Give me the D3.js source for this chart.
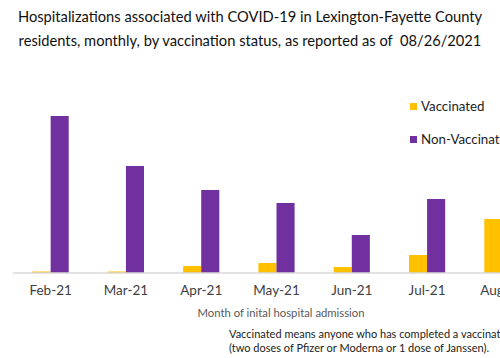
<!DOCTYPE html>
<html>
<head>
<meta charset="utf-8">
<script src="https://cdn.jsdelivr.net/npm/d3@7"></script>
<style>
  body { margin: 0; background: #fff; }
  svg { display: block; font-family: Lato, sans-serif; }
</style>
</head>
<body>
<div id="chart"></div>
<script>
// data (the right side is cut off in the original)
const months = ['Feb-21', 'Mar-21', 'Apr-21', 'May-21', 'Jun-21', 'Jul-21', 'Aug-21'];
const vaccinated = [1.5, 1.5, 7, 10, 6, 18, 54];
const nonVaccinated = [157, 107, 83, 70, 38, 74, 120];
const seriesNames = ['Vaccinated', 'Non-Vaccinated'];
const colors = ['#FFC000', '#7030A0'];

const width = 500;
const height = 358;
const margin = { top: 115, right: -40, bottom: 85, left: 13 };

const svg = d3.select('#chart')
  .append('svg')
  .attr('width', width)
  .attr('height', height);

const x = d3.scaleBand()
  .domain(months)
  .range([margin.left, width - margin.right])
  .paddingInner(0.52)
  .paddingOuter(0.26);

const x1 = d3.scaleBand()
  .domain(seriesNames)
  .range([0, x.bandwidth()]);

const y = d3.scaleLinear()
  .domain([0, 157])
  .range([height - margin.bottom, height - margin.bottom - 157]);

const rows = months.map((m, i) => ({ month: m, values: [vaccinated[i], nonVaccinated[i]] }));

// title
svg.append('text')
  .attr('x', 250).attr('y', 22)
  .attr('text-anchor', 'middle')
  .style('font-size', '14.7px')
  .attr('fill', '#111')
  .selectAll('tspan')
  .data(['Hospitalizations associated with COVID-19 in Lexington-Fayette County',
         'residents, monthly, by vaccination status, as reported as of  08/26/2021'])
  .enter().append('tspan')
  .attr('x', 250)
  .attr('dy', (d, i) => i ? 24 : 0)
  .style('white-space', 'pre')
  .text(d => d);

// bars
const groups = svg.selectAll('.grp')
  .data(rows)
  .enter().append('g')
  .attr('class', 'grp')
  .attr('transform', d => `translate(${x(d.month)},0)`);

groups.selectAll('rect')
  .data(d => d.values.map((v, i) => ({ key: seriesNames[i], value: v, i })))
  .enter().append('rect')
  .attr('x', d => x1(d.key))
  .attr('width', x1.bandwidth())
  .attr('y', d => y(d.value))
  .attr('height', d => y(0) - y(d.value))
  .attr('fill', d => colors[d.i]);

// x axis
const xAxis = svg.append('g')
  .attr('transform', `translate(0,${y(0)})`)
  .call(d3.axisBottom(x).tickSize(0).tickPadding(12));
xAxis.select('.domain').attr('stroke', '#d9d9d9').attr('stroke-width', 1.5)
  .attr('d', `M${margin.left},0H${width + 50}`);
xAxis.selectAll('text')
  .style('font-size', '13.5px')
  .style('font-family', 'Lato, sans-serif')
  .attr('fill', '#404040');

// axis title
svg.append('text')
  .attr('x', 281).attr('y', 317)
  .attr('text-anchor', 'middle')
  .style('font-size', '11.3px')
  .attr('fill', '#595959')
  .text('Month of inital hospital admission');

// footnote
svg.append('text')
  .attr('x', 229).attr('y', 338)
  .style('font-size', '11px')
  .attr('fill', '#222')
  .selectAll('tspan')
  .data(['Vaccinated means anyone who has completed a vaccination series',
         '(two doses of Pfizer or Moderna or 1 dose of Janssen).'])
  .enter().append('tspan')
  .attr('x', 229)
  .attr('dy', (d, i) => i ? 14 : 0)
  .text(d => d);

// legend
const legend = svg.selectAll('.legend')
  .data(seriesNames)
  .enter().append('g')
  .attr('class', 'legend')
  .attr('transform', (d, i) => `translate(410,${103 + i * 33})`);

legend.append('rect')
  .attr('width', 7).attr('height', 7)
  .attr('fill', (d, i) => colors[i]);

legend.append('text')
  .attr('x', 11).attr('y', 8)
  .style('font-size', '13.3px')
  .attr('fill', '#222')
  .text(d => d);
</script>
</body>
</html>
